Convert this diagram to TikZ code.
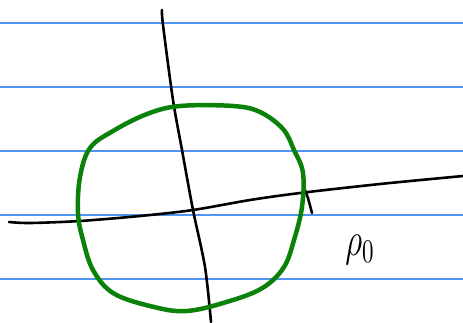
\documentclass[tikz,border=0pt]{standalone}
\usepackage{amsmath,amssymb}
\usepackage{xcolor}
\usepackage{tikz}
\usetikzlibrary{positioning}
\definecolor{ruleblue}{RGB}{80,150,240}
\definecolor{penGreen}{RGB}{10,130,10}

\begin{document}
\begin{tikzpicture}[x=1pt,y=-1pt]
\tikzstyle{ruling} = [draw=ruleblue, line width=1.3pt]
\tikzstyle{axis} = [draw=black, line width=2.6pt, line cap=round]
\tikzstyle{ring} = [draw=penGreen, line width=4.5pt, line join=round]
\tikzstyle{tag} = [font=\Large, xscale=2.3, yscale=3.3, inner sep=0pt]

\useasboundingbox (0,0) rectangle (463,322);
\fill[white] (0,0) rectangle (463,322);

% ruled paper
\foreach \y in {23,87,151,215,279}
  \draw [ruling] (0,\y) -- (463,\y);

% axes
\draw [axis] plot[smooth] coordinates {(162,10) (163,25) (173,100) (182,150) (193,210) (205,267) (211,322)};
\draw [axis] plot[smooth] coordinates {(9,222) (30,223) (80,221) (140,216) (193,210) (250,200) (300,193) (380,184) (463,176)};
\draw [axis] (305,190) -- (308,198) -- (312,213);

% green loop
\draw [ring] plot[smooth cycle, tension=0.6] coordinates {(180,106) (233,106) (260,112) (283,129) (294,150) (303,173) (302,207) (294,240) (284,267) (264,287) (233,300) (187,311) (150,306) (113,293) (93,270) (83,240) (78,213) (80,177) (90,148) (113,131) (147,114)};

% label
\node (rho) [tag] at (360,250) {$\rho_0$};

\end{tikzpicture}
\end{document}
